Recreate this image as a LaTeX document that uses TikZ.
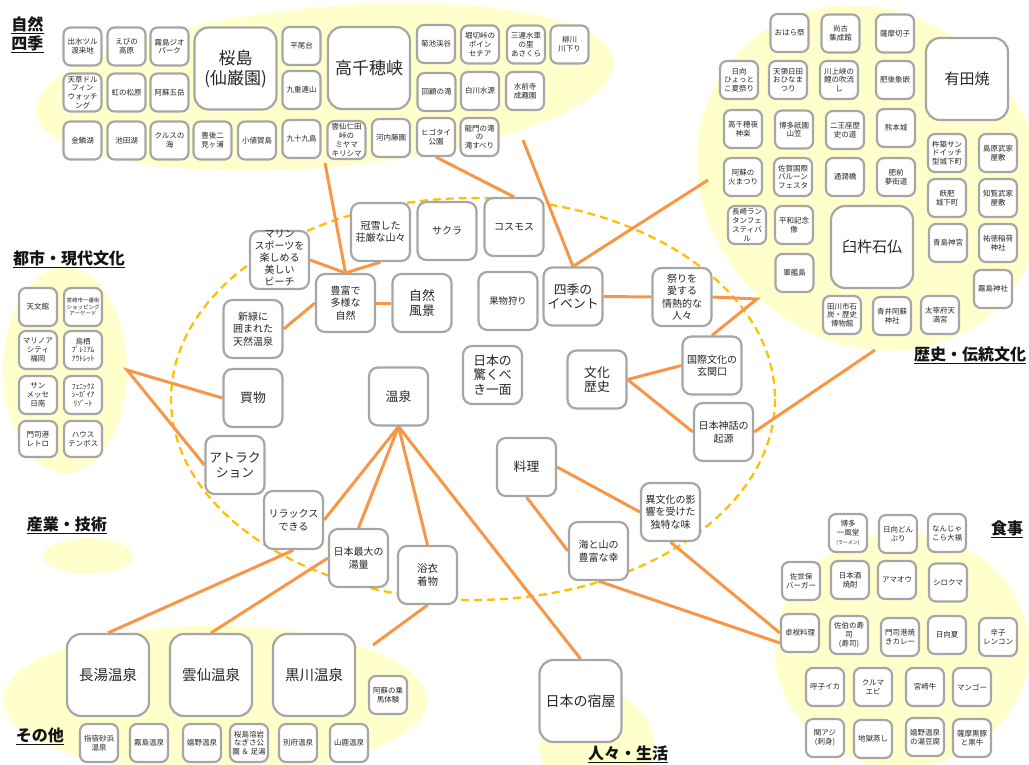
\documentclass[tikz,border=0pt]{standalone}
\usepackage{fontspec}
\setmainfont{Noto Sans CJK JP}
\usetikzlibrary{calc}
\definecolor{boxgray}{RGB}{166,166,166}
\definecolor{txt}{RGB}{38,38,38}
\definecolor{labtxt}{RGB}{20,20,20}
\definecolor{conn}{RGB}{247,150,70}
\definecolor{yel}{RGB}{255,255,204}
\definecolor{dashc}{RGB}{255,192,0}
\pgfdeclarelayer{bg}\pgfdeclarelayer{ln}\pgfsetlayers{bg,ln,main}
\tikzset{
 bx/.style={draw=boxgray, line width=2.2pt, fill=white, rounded corners=7pt, align=center, inner sep=0pt, text=txt, minimum width=38pt, minimum height=38pt, font=\fontsize{7.5}{8.8}\selectfont},
 tiny/.style={font=\fontsize{5.5}{6.4}\selectfont},
 mb/.style={bx, minimum width=59pt, minimum height=58pt, rounded corners=9pt, font=\fontsize{10}{12.5}\selectfont},
 mbl/.style={mb, font=\fontsize{12.8}{14.5}\selectfont},
 lb/.style={bx, minimum width=82pt, minimum height=82pt, rounded corners=14pt, font=\fontsize{17}{20}\selectfont},
 lbm/.style={lb, font=\fontsize{14.5}{17}\selectfont},
 lab/.style={font=\bfseries\fontsize{16}{18}\selectfont, inner sep=0pt, text=labtxt},
 ul/.style={line width=1.3pt, draw=labtxt},
 conn/.style={draw=conn, line width=3pt},
}
\begin{document}
\begin{tikzpicture}[x=1pt,y=-1pt]
\useasboundingbox (0,0) rectangle (1029,765);
\begin{pgfonlayer}{bg}
\fill[yel, rotate around={5:(325,87)}] (325,87) ellipse [x radius=290, y radius=80];
\fill[yel, rotate around={-45:(870,178)}] (870,178) ellipse [x radius=182, y radius=163];
\fill[yel] (65,370) ellipse [x radius=62, y radius=103];
\fill[yel] (88,556) ellipse [x radius=45, y radius=18];
\fill[yel] (215,700) ellipse [x radius=212, y radius=74];
\fill[yel] (902,650) ellipse [x radius=127, y radius=117];
\fill[yel] (597,748) circle [radius=57];
\draw[dashc, line width=2.3pt, dash pattern=on 8pt off 5pt] (473,399) ellipse [x radius=302, y radius=201];
\end{pgfonlayer}

% labels
\node[lab] (l1a) at (27.5,24) {自然};
\node[lab] (l1b) at (27.5,43) {四季};
\node[lab] (l2) at (69,258) {都市・現代文化};
\node[lab] (l3) at (67,524) {産業・技術};
\node[lab] (l4) at (970,354) {歴史・伝統文化};
\node[lab] (l5) at (1007,528) {食事};
\node[lab] (l6) at (40,735) {その他};
\node[lab] (l7) at (628,753) {人々・生活};
\foreach \l in {l1a,l1b,l2,l3,l4,l5,l6,l7}{
 \draw[ul] ([yshift=-1.5pt]\l.south west) -- ([yshift=-1.5pt]\l.south east);
}

% top-left cluster
\node[bx] (izumi) at (82.5,46.5) {出水ツル\\渡来地};
\node[bx] (ebino) at (126.5,46.5) {えびの\\高原};
\node[bx] (kirigeo) at (169.5,46.5) {霧島ジオ\\パーク};
\node[lb] (sakuraj) at (235.5,68.5) {桜島\\(仙巌園)};
\node[bx] (hirao) at (301.5,46) {平尾台};
\node[lb] (takachiho) at (369,68) {高千穂峡};
\node[bx] (kikuchi) at (436,44) {菊池渓谷};
\node[bx] (horikiri) at (480,44.5) {堀切峠の\\ポイン\\セチア};
\node[bx] (sanren) at (526,44.5) {三連水車\\の里\\あさくら};
\node[bx] (yanagawa) at (569.5,44.5) {柳川\\川下り};
\node[bx] (amakusa) at (82.5,92.5) {天草ドル\\フィン\\ウォッチ\\ング};
\node[bx] (niji) at (126.5,92.5) {虹の松原};
\node[bx] (aso5) at (169.5,92.5) {阿蘇五岳};
\node[bx] (kuju) at (301.5,90) {九重連山};
\node[bx] (kaiko) at (436.5,92) {回顧の滝};
\node[bx] (shirakawa) at (480,91) {白川水源};
\node[bx] (suizenji) at (525,91) {水前寺\\成趣園};
\node[bx] (kinrin) at (82.5,140.5) {金鱗湖};
\node[bx] (ikeda) at (126.5,140.5) {池田湖};
\node[bx] (kurusu) at (169.5,140.5) {クルスの\\海};
\node[bx] (bungo) at (212.5,140.5) {豊後二\\見ヶ浦};
\node[bx] (ojika) at (257,140.5) {小値賀島};
\node[bx] (kujuku) at (301.5,139) {九十九島};
\node[bx] (niita) at (346.5,140) {雲仙仁田\\峠の\\ミヤマ\\キリシマ};
\node[bx] (kawachi) at (391,138) {河内藤園};
\node[bx] (higotai) at (436,137) {ヒゴタイ\\公園};
\node[bx] (ryumon) at (479.5,137) {龍門の滝\\の\\滝すべり};

% right cluster
\node[bx] (ohara) at (789.5,33) {おはら祭};
\node[bx] (shoko) at (840.5,33.5) {尚古\\集成館};
\node[bx] (kiriko) at (895,33.5) {薩摩切子};
\node[lb, font=\fontsize{15}{18}\selectfont] (arita) at (967,79) {有田焼};
\node[bx] (hyottoko) at (739,80) {日向\\ひょっと\\こ夏祭り};
\node[bx] (hina) at (788,80) {天領日田\\おひなま\\つり};
\node[bx] (koi) at (839,80) {川上峡の\\鯉の吹流\\し};
\node[bx] (zogan) at (895,80) {肥後象嵌};
\node[bx] (yokagura) at (743,129) {高千穂夜\\神楽};
\node[bx] (yamakasa) at (794,129.5) {博多祇園\\山笠};
\node[bx] (nioza) at (845,130) {二王座歴\\史の道};
\node[bx] (kumamotojo) at (896,128) {熊本城};
\node[bx] (kitsuki) at (947,153) {杵築サン\\ドイッチ\\型城下町};
\node[bx] (shimabara) at (998,153) {島原武家\\屋敷};
\node[bx] (hinomatsuri) at (743,177) {阿蘇の\\火まつり};
\node[bx] (balloon) at (793,177) {佐賀国際\\バルーン\\フェスタ};
\node[bx] (tsujun) at (845,177) {通潤橋};
\node[bx] (hizen) at (896,177) {肥前\\夢街道};
\node[bx] (obi) at (947,198) {飫肥\\城下町};
\node[bx] (chiran) at (998,198) {知覧武家\\屋敷};
\node[bx] (lantern) at (747,225) {長崎ラン\\タンフェ\\スティバ\\ル};
\node[bx] (heiwa) at (794,225) {平和記念\\像};
\node[lb, font=\fontsize{15}{18}\selectfont] (usuki) at (872,247) {臼杵石仏};
\node[bx] (aoshima) at (948,243) {青島神宮};
\node[bx] (yutoku) at (998,243) {祐徳稲荷\\神社};
\node[bx] (gunkan) at (794.5,273) {軍艦島};
\node[bx] (kirishimaj) at (993,289) {霧島神社};
\node[bx] (tagawa) at (842,315) {田川市石\\炭・歴史\\博物館};
\node[bx] (aoi) at (892,316) {青井阿蘇\\神社};
\node[bx] (dazaifu) at (940,315) {太宰府天\\満宮};

% left cluster
\node[bx] (tenmonkan) at (38,307) {天文館};
\node[bx, tiny] (ichiban) at (83,307) {宮崎市一番街\\ショッピング\\アーケード};
\node[bx] (marinoa) at (38,350) {マリノア\\シティ\\福岡};
\node[bx] (tosu) at (83,350) {鳥栖\\ﾌﾟﾚﾐｱﾑ\\ｱｳﾄﾚｯﾄ};
\node[bx] (sunmesse) at (38,395) {サン\\メッセ\\日南};
\node[bx] (seagaia) at (83,395) {ﾌｪﾆｯｸｽ\\ｼｰｶﾞｲｱ\\ﾘｿﾞｰﾄ};
\node[bx, minimum height=36pt] (mojiko) at (38,439) {門司港\\レトロ};
\node[bx, minimum height=36pt] (huis) at (83,439) {ハウス\\テンボス};

% bottom-left cluster
\node[lbm] (nagayu) at (108,675) {長湯温泉};
\node[lbm] (unzen) at (211,675) {雲仙温泉};
\node[lbm] (kurokawa) at (314,675) {黒川温泉};
\node[bx] (joba) at (388,695) {阿蘇の乗\\馬体験};
\node[bx] (ibusuki) at (99,743) {指宿砂浜\\温泉};
\node[bx] (kirishimao) at (149,743) {霧島温泉};
\node[bx] (ureshino) at (202,743) {嬉野温泉};
\node[bx] (nagisa) at (249,743) {桜島溶岩\\なぎさ公\\園 ＆ 足湯};
\node[bx] (beppu) at (298,743) {別府温泉};
\node[bx] (yamaga) at (349,743) {山鹿温泉};

% food cluster
\node[bx] (ippudo) at (848,533) {博多\\一風堂\\{\fontsize{5}{6}\selectfont(ラーメン)}};
\node[bx] (donburi) at (898,534) {日向どん\\ぶり};
\node[bx] (nanjakora) at (947,533) {なんじゃ\\こら大福};
\node[bx] (sasebo) at (801,581) {佐世保\\バーガー};
\node[bx] (sake) at (850,580) {日本酒\\焼酎};
\node[bx] (amaou) at (897,580) {アマオウ};
\node[bx] (shirokuma) at (948,582.5) {シロクマ};
\node[bx] (shippoku) at (800,633) {卓袱料理};
\node[bx] (saiki) at (849,635) {佐伯の寿\\司\\(寿司)};
\node[bx] (yakicurry) at (900,637) {門司港焼\\きカレー};
\node[bx] (hyuganatsu) at (947,635) {日向夏};
\node[bx] (karashi) at (998,637) {辛子\\レンコン};
\node[bx] (yobuko) at (825,687) {呼子イカ};
\node[bx] (kuruma) at (873,687) {クルマ\\エビ};
\node[bx] (miyazakigyu) at (925,687) {宮崎牛};
\node[bx] (mango) at (972,687) {マンゴー};
\node[bx] (sekiaji) at (825,738) {関アジ\\(刺身)};
\node[bx] (jigoku) at (873,739) {地獄蒸し};
\node[bx] (yudofu) at (925,737) {嬉野温泉\\の湯豆腐};
\node[bx] (kurobuta) at (972,738) {薩摩黒豚\\と黒牛};

% center nodes
\node[mb] (marine) at (279.5,260) {};
\node[align=center, inner sep=0pt, text=txt, font=\fontsize{10}{12}\selectfont] (marinetxt) at (279.5,258) {マリン\\スポーツを\\楽しめる\\美しい\\ビーチ};
\node[mb] (kansetsu) at (380.5,232) {冠雪した\\荘厳な山々};
\node[mb] (sakurac) at (447,231) {サクラ};
\node[mb] (cosmos) at (514,227) {コスモス};
\node[mb] (hofu) at (345.5,303) {豊富で\\多様な\\自然};
\node[mbl] (shizen) at (422,303) {自然\\風景};
\node[mb, font=\fontsize{9.3}{11}\selectfont] (kudamono) at (508,301) {果物狩り};
\node[mbl] (shiki) at (573,296.5) {四季の\\イベント};
\node[mb] (shinryoku) at (253,329) {新緑に\\囲まれた\\天然温泉};
\node[mbl] (odoroki) at (492.5,375) {日本の\\驚くべ\\き一面};
\node[mbl] (kaimono) at (253,398) {買物};
\node[mbl] (onsen) at (398.5,396.5) {温泉};
\node[mb] (matsuri) at (682,297) {祭りを\\愛する\\情熱的な\\人々};
\node[mbl] (bunka) at (597,379.5) {文化\\歴史};
\node[mb] (kokusai) at (712,365.5) {国際文化の\\玄関口};
\node[mb] (shinwa) at (723.5,432) {日本神話の\\起源};
\node[mbl] (ryori) at (526.5,467) {料理};
\node[mb] (ibunka) at (670.5,512) {異文化の影\\響を受けた\\独特な味};
\node[mb] (umiyama) at (598.5,551) {海と山の\\豊富な幸};
\node[mbl] (attraction) at (235,465) {アトラク\\ション};
\node[mb] (relax) at (293.5,520) {リラックス\\できる};
\node[mb] (saidai) at (358.5,558) {日本最大の\\湯量};
\node[mb, font=\fontsize{10.5}{13}\selectfont] (yukata) at (427.5,575) {浴衣\\着物};
\node[lb, font=\fontsize{14}{17}\selectfont] (yadoya) at (580.5,701) {日本の宿屋};

% free ends
\coordinate (cTL) at (325,163);
\coordinate (cTM) at (523,140);
\coordinate (cTR) at (708,180);
\coordinate (cR1) at (757,299);
\coordinate (cR2) at (875,350);
\coordinate (cL) at (127,370);
\coordinate (cB) at (373,645);

\begin{pgfonlayer}{ln}
\draw[conn] (cTL) -- (hofu.north);
\draw[conn] (marine.east) -- (hofu.north);
\draw[conn] (kansetsu.south) -- (hofu.north);
\draw[conn] (shinryoku.east) -- (hofu.west);
\draw[conn] (hofu.east) -- (shizen.west);
\draw[conn] (higotai.south) -- (cosmos.north);
\draw[conn] (cTM) -- (shiki.north) -- (cTR);
\draw[conn] (shiki.east) -- (matsuri.west);
\draw[conn] (matsuri.east) -- (cR1) -- (kokusai.north);
\draw[conn] (kokusai.west) -- (bunka.east) -- (shinwa.west);
\draw[conn] (shinwa.east) -- (cR2);
\draw[conn] (ryori.east) -- (ibunka.west);
\draw[conn] (ryori.south) -- (umiyama.west);
\draw[conn] (ibunka.south) -- (shippoku.west);
\draw[conn] (umiyama.south) -- ([yshift=-10pt]shippoku.west);
\draw[conn] (onsen.south) -- (relax.east);
\draw[conn] (onsen.south) -- (saidai.north);
\draw[conn] (onsen.south) -- (yukata.north);
\draw[conn] (onsen.south) -- (yadoya.north);
\draw[conn] (relax.south) -- (nagayu.north);
\draw[conn] (saidai.west) -- (unzen.north);
\draw[conn] (yukata.south) -- (cB);
\draw[conn] (kaimono.west) -- (cL) -- (attraction.west);
\end{pgfonlayer}
\end{tikzpicture}
\end{document}
